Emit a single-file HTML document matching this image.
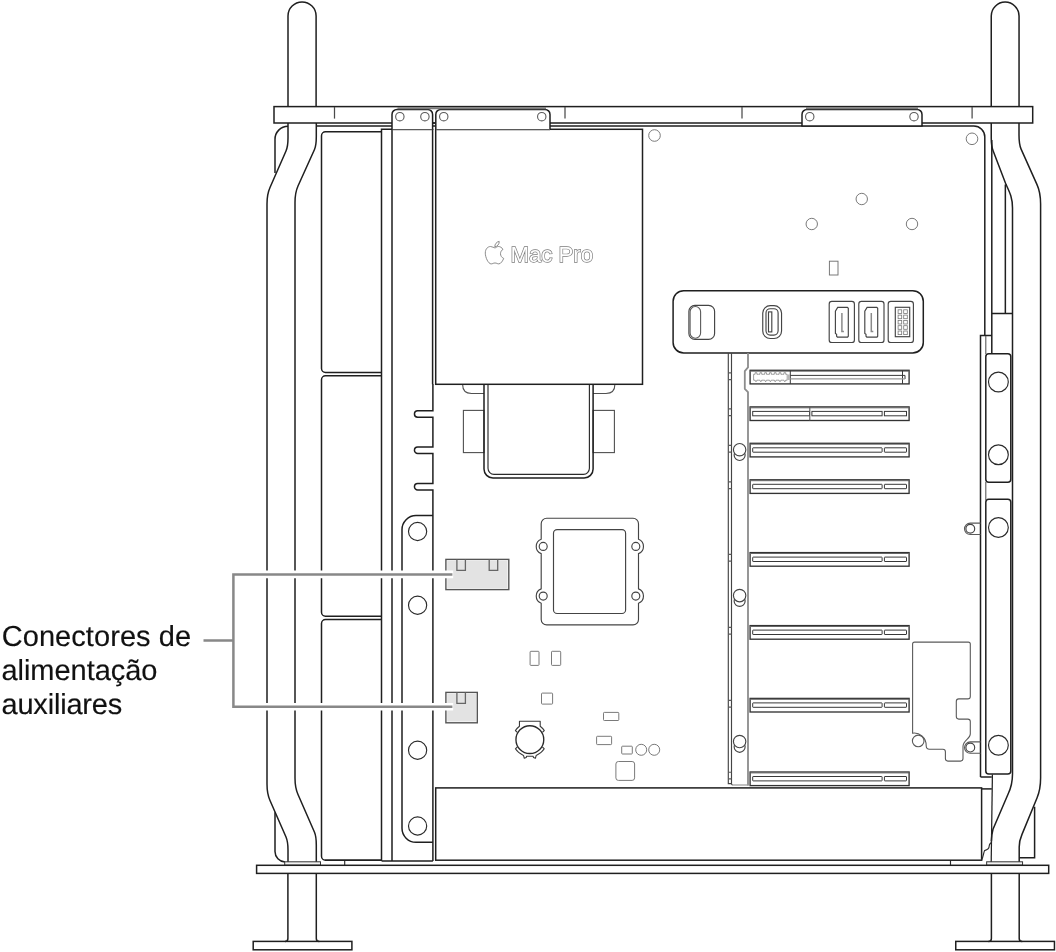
<!DOCTYPE html>
<html lang="pt">
<head>
<meta charset="utf-8">
<title>Conectores de alimentação auxiliares</title>
<style>
html,body{margin:0;padding:0;background:#fff;}
body{width:1056px;height:952px;overflow:hidden;position:relative;font-family:"Liberation Sans",sans-serif;}
svg{position:absolute;left:0;top:0;display:block;}
.k{fill:none;stroke:#1f1f1f;stroke-width:1.5;}
.th{fill:none;stroke:#858585;stroke-width:0.8;}
.si{fill:none;stroke:#383838;stroke-width:1;}
.pb{fill:none;stroke:#8c8c8c;stroke-width:1.8;}
.pb2{fill:none;stroke:#999;stroke-width:1.2;}
.bh{fill:none;stroke:#3a3a3a;stroke-width:1.1;stroke-linejoin:round;}
.bc{fill:none;stroke:#2a2a2a;stroke-width:1.35;}
.k3{fill:none;stroke:#222;stroke-width:1.25;}
.k2{fill:#f2f2f2;stroke:#333;stroke-width:1;}
.m{fill:none;stroke:#2a2a2a;stroke-width:1.15;}
.cp{fill:none;stroke:#444;stroke-width:1.15;}
.s{fill:none;stroke:#333;stroke-width:1.35;}
.st{fill:none;stroke:#666;stroke-width:1;}
.g{fill:none;stroke:#505050;stroke-width:1.1;}
.gl{fill:none;stroke:#5a5a5a;stroke-width:1.1;}
.sm{fill:none;stroke:#737373;stroke-width:0.95;}
.t{fill:none;stroke:#4a4a4a;stroke-width:1.25;}
.gb{fill:none;stroke:#7a7a7a;stroke-width:2;}
.hd{fill:none;stroke:#8a8a8a;stroke-width:1.5;}
.pin{fill:none;stroke:#777;stroke-width:0.8;}
.ho{fill:#fff;stroke:#555;stroke-width:1.4;}
.hf{fill:#e3e3e3;stroke:none;}
.hp{fill:none;stroke:#666;stroke-width:1.3;}
.cw{fill:none;stroke:#fff;stroke-width:7.6;stroke-linecap:butt;}
.cl{fill:none;stroke:#888;stroke-width:2.5;}
.apple path{fill:#fff;stroke:#777;stroke-width:0.85;}
.logo{font-family:"Liberation Sans",sans-serif;font-weight:normal;font-size:22.3px;letter-spacing:-0.05px;fill:#fff;stroke:#7c7c7c;stroke-width:1.4;paint-order:stroke fill;}
.label{font-family:"Liberation Sans",sans-serif;font-size:29px;fill:#111;stroke:#111;stroke-width:0.15px;text-rendering:geometricPrecision;}
svg{will-change:transform;-webkit-font-smoothing:antialiased;}
.w{fill:#fff;}
.f2{fill:#d9d9d9;}
</style>
</head>
<body>
<svg width="1056" height="952" viewBox="0 0 1056 952">
<g id="frame">
<path class="k" d="M288,107 V16 A14.05,14.05 0 0 1 316.1,16 V107"/>
<path class="k" d="M991.25,107 V16 A13.9,13.9 0 0 1 1019.05,16 V107"/>
<path class="k" d="M288,123 V138 C288,144 287.5,147.5 286,151 L270,187.5 C268,192 267,197 267,204 V784 C267,791 268,796 270,800.5 L286,837 C287.5,840.5 288,844 288,850 V862"/>
<path class="k" d="M316.3,123 V136.5 C316.3,142.5 316,146 314.5,149.5 L298,186 C296,190.5 295,195.5 295,202.5 V778 C295,785 296,790 298,794.5 L314.5,832.2 C316,835.7 316.3,839 316.3,845 V862"/>
<path class="k" d="M288,126.25 A13,13 0 0 0 275,139.5 V173"/>
<path class="k" d="M275,812.3 V851.5 A10.5,10.5 0 0 0 285,862"/>
<path class="k" d="M991.25,123 V138 C991.25,144 991.7,147.5 993.2,151 L1006,184.4 C1010,193 1012.5,198 1012.5,208 V774 C1012.5,783 1011,788 1008.1,794 L993,829.3 C992,833 991.4,836 991.4,841"/>
<path class="k" d="M1019,123 V135 C1019,142 1019.5,145.5 1021.1,149.1 L1036.9,184.4 C1039.5,190 1040.6,196 1040.6,204 V778 C1040.6,786 1039.5,792 1037,798 L1022,834.4 C1020,839 1019.2,842 1019.2,847 V862"/>
<path class="k" d="M991.8,140 V353.7 M1005.35,184.4 V313.6 M991.8,313.6 H1012.5"/>
<path class="k3" d="M992.4,774.5 L991.2,862"/>
<path class="k" d="M1034.6,806.7 V857.7 H1019.2"/>
<path class="k" d="M287.9,873 V938.4 Q287.9,941.4 285,941.4 M316.3,873 V938.4 Q316.3,941.4 319.3,941.4"/>
<path class="k" d="M991.4,873 V938.4 Q991.4,941.4 988.4,941.4 M1019.2,873 V938.4 Q1019.2,941.4 1022.2,941.4"/>
<rect class="k" x="253.2" y="941.4" width="98.7" height="8.4"/>
<rect class="k" x="955.75" y="941.4" width="98.7" height="8.4"/>
</g>
<g id="bars">
<rect class="k w" x="274" y="106.6" width="758.7" height="16.4"/>
<path class="t" d="M334.5,107 V118.6"/>
<path class="t" d="M565,107 V118.6"/>
<path class="t" d="M742,107 V118.6"/>
<path class="t" d="M972.1,107 V118.6"/>
<rect class="k2" x="284.7" y="861.8" width="35.8" height="3.4"/>
<rect class="k2" x="986.65" y="861.8" width="35.9" height="3.4"/>
<rect class="k w" x="256.6" y="865.3" width="792.1" height="8.1"/>
</g>
<g id="case">
<path class="k" d="M316.3,125.9 H392 M432.6,123 H435.8 M432.6,125.9 H435.8 M550,125.9 H973.8 A11,11 0 0 1 984.8,137 V335.4 M980.5,777 H991.8 M991.8,335.4 H980.5 V777"/>
<path class="k" d="M381.6,861 H432.9 M325,860.3 H381.6"/>
<path class="m" d="M344.7,860.3 V865 M950.5,860.3 V865"/>
<path class="k" d="M981.6,788.9 H991.8"/>
</g>
<g id="fan">
<path class="k" d="M381.5,131.75 H325.5 A4,4 0 0 0 321.5,135.75 V368.5 A4,4 0 0 0 325.5,372.5 H381.5"/>
<path class="k" d="M381.5,375.75 H325.5 A4,4 0 0 0 321.5,379.75 V612.25 A4,4 0 0 0 325.5,616.25 H381.5"/>
<path class="k" d="M381.5,619.5 H325.5 A4,4 0 0 0 321.5,623.5 V856.2 A4,4 0 0 0 325.5,860.2 H381.5"/>
<path class="k" d="M392,129.3 H381.5 V861"/>
</g>
<g id="strip">
<path class="k w" d="M392,130 V114.4 A5,5 0 0 1 397,109.4 H427.6 A5,5 0 0 1 432.6,114.4 V130"/>
<path class="k" d="M392,129 V861 M432.6,129 V384.3"/>
<path class="gl" d="M392.6,129.6 H432.3"/>
<path class="k" d="M432.9,384 V410.75 H417.7 A3.25,3.25 0 0 0 417.7,417.25 H432.9 V447.0 H417.7 A3.25,3.25 0 0 0 417.7,453.5 H432.9 V483.5 H417.7 A3.25,3.25 0 0 0 417.7,490.0 H432.9 V861"/>
<path class="k" d="M432.9,515.6 H416 A14,14 0 0 0 402,529.6 V828.3 A14,14 0 0 0 416,842.3 H432.9"/>
<circle class="m" cx="417.6" cy="531.5" r="9.1"/>
<circle class="m" cx="417.6" cy="605.25" r="9.1"/>
<circle class="m" cx="417.6" cy="750.25" r="9.1"/>
<circle class="m" cx="417.6" cy="826" r="9.1"/>
<circle class="gl" cx="399.85" cy="116.7" r="4.2"/>
<circle class="gl" cx="424.9" cy="116.7" r="4.2"/>
</g>
<g id="psu">
<rect class="g" x="463.4" y="410.4" width="20.6" height="42.2"/>
<rect class="g" x="593.1" y="410.4" width="21.3" height="42.2"/>
<path class="g" d="M462.6,384.3 Q462.6,393.5 471.5,393.5 H484 M614.9,384.3 Q614.9,393.5 606,393.5 H593.1"/>
<path class="k" d="M484,384.3 V469 A9,9 0 0 0 493,478 H584.1 A9,9 0 0 0 593.1,469 V384.3"/>
<path class="m" d="M488,384.3 V468.3 A6,6 0 0 0 494,474.3 H583.4 A6,6 0 0 0 589.4,468.3 V384.3"/>
<rect class="k" x="435.7" y="129.3" width="206.8" height="255"/>
<path class="k w" d="M435.8,129.3 V114.4 A5,5 0 0 1 440.8,109.4 H545 A5,5 0 0 1 550,114.4 V129.3"/>
<path class="gb" d="M397.5,108.3 H546"/>
<path class="gl" d="M436.4,129.6 H550"/>
<circle class="gl" cx="443.75" cy="116.7" r="4.2"/>
<circle class="gl" cx="541.75" cy="116.7" r="4.2"/>
<g class="apple" transform="translate(485.3,245.9)"><path d="M9.6,2.0 C8.3,2.0 7.2,0.6 5.3,0.6 C2.6,0.6 0,2.9 0,7.2 C0,11.5 3.0,18 5.9,18 C7.3,18 7.9,17.1 9.7,17.1 C11.5,17.1 12.0,18 13.5,18 C15.6,18 17.6,14.6 18.4,12.5 C16.4,11.7 15.2,9.8 15.2,7.8 C15.2,6.0 16.2,4.3 17.7,3.4 C16.6,1.7 14.8,0.6 13.1,0.6 C11.4,0.6 10.6,2.0 9.6,2.0 Z"/><path d="M9.5,0.9 C9.3,-1.6 11.4,-4.2 13.9,-4.5 C14.2,-2.0 12.0,0.8 9.5,0.9 Z"/></g>
<text class="logo" x="510.4" y="262.4">Mac Pro</text>
</g>
<g id="br3">
<path class="k w" d="M802,125.9 V114.4 A5,5 0 0 1 807,109.4 H917 A5,5 0 0 1 922,114.4 V125.9"/>
<path class="k" d="M801.3,125.9 H922.7"/>
<path class="gb" d="M806,108.3 H918"/>
<circle class="gl" cx="809.75" cy="116.7" r="4.2"/>
<circle class="gl" cx="914" cy="116.7" r="4.2"/>
</g>
<g id="board">
<circle class="sm" cx="654.5" cy="135.5" r="5.8"/>
<circle class="sm" cx="972" cy="138.8" r="5.8"/>
<circle class="sm" cx="861.75" cy="199" r="5.7"/>
<circle class="sm" cx="811.75" cy="224" r="5.7"/>
<circle class="sm" cx="912" cy="224" r="5.7"/>
<rect class="sm" x="829.4" y="261.2" width="8.6" height="13.8"/>
<rect class="sm" x="530.1" y="651.3" width="8.9" height="14.1" rx="0.8"/>
<rect class="sm" x="551.5" y="651.3" width="9.2" height="14.1" rx="0.8"/>
<rect class="sm" x="541.5" y="693.1" width="11.1" height="11" rx="0.8"/>
<rect class="sm" x="603.5" y="712.4" width="15.3" height="8.1" rx="0.8"/>
<rect class="sm" x="596.6" y="736.3" width="15" height="8.3" rx="0.8"/>
<rect class="sm" x="621.7" y="746.2" width="10.6" height="7.8" rx="0.8"/>
<rect class="sm" x="615.9" y="761.5" width="18.7" height="18.9" rx="2.5"/>
<circle class="sm" cx="641.2" cy="749.8" r="5.5"/><circle class="sm" cx="654.2" cy="749.8" r="5.5"/>
</g>
<g id="cpu">
<path class="cp" d="M546.7,518.2 H633.0 A5.5,5.5 0 0 1 638.5,523.7 V539.2 A7.7,7.7 0 0 1 638.5,553.6 V588.9 A7.7,7.7 0 0 1 638.5,603.3 V619.4 A5.5,5.5 0 0 1 633.0,624.9 H546.7 A5.5,5.5 0 0 1 541.2,619.4 V603.3 A7.7,7.7 0 0 1 541.2,588.9 V553.6 A7.7,7.7 0 0 1 541.2,539.2 V523.7 A5.5,5.5 0 0 1 546.7,518.2 Z"/>
<circle class="cp" cx="543.2" cy="546.4" r="4"/>
<circle class="cp" cx="635.8" cy="546.4" r="4"/>
<circle class="cp" cx="543.2" cy="596.1" r="4"/>
<circle class="cp" cx="635.8" cy="596.1" r="4"/>
<rect class="cp" x="553.5" y="529.6" width="72.1" height="83.9" rx="3.6"/>
</g>
<g id="bat">
<path class="bh" d="M517.3,732.3 L515.4,730.5 A17,17 0 0 1 519.45,726.2 V721.3 H540.2 V726.2 A17,17 0 0 1 544.3,730.5 L542.4,732.3"/>
<path class="bh" d="M517.3,747 L515.4,748.8 A17,17 0 0 0 523.5,755.4 L524.3,758.3 L526.2,757.6 L526.6,756.2 H533.1 L533.5,757.6 L535.4,758.3 L536.2,755.4 A17,17 0 0 0 544.3,748.8 L542.4,747"/>
<circle class="bc" cx="529.86" cy="739.63" r="13.9"/>
</g>
<g id="ports">
<rect class="k" x="673.1" y="290.7" width="250.2" height="62.3" rx="10.6"/>
<rect class="cp" x="688.9" y="305.3" width="25.7" height="34.1" rx="6"/>
<rect class="gl" x="690.1" y="306.5" width="10.5" height="31.7" rx="5.25"/>
<rect class="cp" x="762.75" y="305.6" width="18.8" height="32.9" rx="7.5"/>
<rect class="cp" x="766" y="308.75" width="12.1" height="26.3" rx="4.2"/>
<rect class="cp" x="768.5" y="311.9" width="3.3" height="20" fill="#ddd"/>
<rect class="cp" x="829.2" y="301.4" width="25.2" height="41.1" rx="2.6"/>
<rect class="cp" x="858.8" y="301.4" width="25.2" height="41.1" rx="2.6"/>
<rect class="cp" x="888.2" y="301.4" width="25.2" height="41.1" rx="2.6"/>
<path class="cp" transform="translate(0,0)" d="M837.7,307.4 H847.4 L848.3,308.3 V336.2 L847.6,337.1 H837.4 L836.6,336.2 V334.2 L835.4,333.4 V311.2 Z"/>
<path class="hd" transform="translate(0,0)" d="M841.9,313.1 V331.6 H843.9"/>
<path class="cp" transform="translate(29.4,0)" d="M837.7,307.4 H847.4 L848.3,308.3 V336.2 L847.6,337.1 H837.4 L836.6,336.2 V334.2 L835.4,333.4 V311.2 Z"/>
<path class="hd" transform="translate(29.4,0)" d="M841.9,313.1 V331.6 H843.9"/>
<rect class="cp" x="895.3" y="307.3" width="14.4" height="29.4"/>
<rect class="pin" x="898.1" y="309.8" width="3.6" height="3.6"/>
<rect class="pin" x="903.7" y="309.8" width="3.6" height="3.6"/>
<rect class="pin" x="898.1" y="315.1" width="3.6" height="3.6"/>
<rect class="pin" x="903.7" y="315.1" width="3.6" height="3.6"/>
<rect class="pin" x="898.1" y="320.4" width="3.6" height="3.6"/>
<rect class="pin" x="903.7" y="320.4" width="3.6" height="3.6"/>
<rect class="pin" x="898.1" y="325.7" width="3.6" height="3.6"/>
<rect class="pin" x="903.7" y="325.7" width="3.6" height="3.6"/>
<rect class="pin" x="898.1" y="331.0" width="3.6" height="3.6"/>
<rect class="pin" x="903.7" y="331.0" width="3.6" height="3.6"/>
</g>
<g id="pci">
<path class="cp" d="M728.3,353 V783.6 H731.5 M731.5,353 V784 L732.5,785.2"/>
<path class="gl" d="M728.3,372.9 H731.5 M728.3,379.6 H731.5"/>
<path class="gl" d="M728.3,408.9 H731.5 M728.3,415.6 H731.5"/>
<path class="gl" d="M728.3,445.4 H731.5 M728.3,452.1 H731.5"/>
<path class="gl" d="M728.3,481.9 H731.5 M728.3,488.6 H731.5"/>
<path class="gl" d="M728.3,554.4 H731.5 M728.3,561.1 H731.5"/>
<path class="gl" d="M728.3,627.4 H731.5 M728.3,634.1 H731.5"/>
<path class="gl" d="M728.3,700.4 H731.5 M728.3,707.1 H731.5"/>
<path class="gl" d="M728.3,772.1999999999999 H731.5 M728.3,778.9 H731.5"/>
<path class="pb" d="M748,353 V367.4 L744.8,371.2 V388.8 L748,392 V785.6"/>
<path class="pb2" d="M732.2,785 H748.6"/>
<rect class="s" x="750.1" y="370.3" width="159" height="13.6"/>
<path class="st" d="M749.9,371.2 H909.1"/>
<path class="th" d="M753.6,374.3 h1.5 v-1.6 h1.8 v1.6 h1.5 h1.5 v-1.6 h1.8 v1.6 h1.5 h1.5 v-1.6 h1.8 v1.6 h1.5 h1.5 v-1.6 h1.8 v1.6 h1.5 h1.5 v-1.6 h1.8 v1.6 h1.5 h1.5 v-1.6 h1.8 v1.6 h1.5 h1.5 v-1.6 h1.8 v1.6 h1.5 V380.2 h-1.5 l-0.9,1.6 l-0.9,-1.6 h-1.5 h-1.5 l-0.9,1.6 l-0.9,-1.6 h-1.5 h-1.5 l-0.9,1.6 l-0.9,-1.6 h-1.5 h-1.5 l-0.9,1.6 l-0.9,-1.6 h-1.5 h-1.5 l-0.9,1.6 l-0.9,-1.6 h-1.5 h-1.5 l-0.9,1.6 l-0.9,-1.6 h-1.5 h-1.5 l-0.9,1.6 l-0.9,-1.6 h-1.5 Z"/>
<path class="si" d="M790.3,370.3 V383.90000000000003 M902.5,370.3 V383.90000000000003 M790.3,375.4 H905 V379"/>
<path class="pb2" d="M790.3,378.9 H905 M788.9,374.6 V380"/>
<rect class="s" x="750.1" y="406.9" width="159" height="13.6"/>
<path class="st" d="M749.9,407.79999999999995 H909.1"/>
<rect class="si" x="752.7" y="411.4" width="56.8" height="4.4"/>
<rect class="si" x="811.9" y="411.4" width="70.2" height="4.4"/>
<rect class="si" x="884.4" y="411.4" width="22.1" height="4.4"/>
<path class="gl" d="M809.8,406.9 V420.5"/>
<rect class="s" x="750.1" y="443.3" width="159" height="13.6"/>
<path class="st" d="M749.9,444.2 H909.1"/>
<rect class="si" x="752.7" y="447.8" width="129.4" height="4.4" rx="0.4"/>
<rect class="si" x="884.4" y="447.8" width="22.1" height="4.4" rx="0.4"/>
<rect class="s" x="750.1" y="479.8" width="159" height="13.6"/>
<path class="st" d="M749.9,480.7 H909.1"/>
<rect class="si" x="752.7" y="484.3" width="129.4" height="4.4" rx="0.4"/>
<rect class="si" x="884.4" y="484.3" width="22.1" height="4.4" rx="0.4"/>
<rect class="s" x="750.1" y="552.6" width="159" height="13.6"/>
<path class="st" d="M749.9,553.5 H909.1"/>
<rect class="si" x="752.7" y="557.1" width="129.4" height="4.4" rx="0.4"/>
<rect class="si" x="884.4" y="557.1" width="22.1" height="4.4" rx="0.4"/>
<rect class="s" x="750.1" y="625.6" width="159" height="13.6"/>
<path class="st" d="M749.9,626.5 H909.1"/>
<rect class="si" x="752.7" y="630.1" width="129.4" height="4.4" rx="0.4"/>
<rect class="si" x="884.4" y="630.1" width="22.1" height="4.4" rx="0.4"/>
<rect class="s" x="750.1" y="698.4" width="159" height="13.6"/>
<path class="st" d="M749.9,699.3 H909.1"/>
<rect class="si" x="752.7" y="702.9" width="129.4" height="4.4" rx="0.4"/>
<rect class="si" x="884.4" y="702.9" width="22.1" height="4.4" rx="0.4"/>
<rect class="s" x="750.1" y="772" width="159" height="13.6"/>
<path class="st" d="M749.9,772.9 H909.1"/>
<rect class="si" x="752.7" y="776.5" width="129.4" height="4.4" rx="0.4"/>
<rect class="si" x="884.4" y="776.5" width="22.1" height="4.4" rx="0.4"/>
<circle class="cp" cx="739.63" cy="455.0" r="5.5"/>
<circle class="cp w" cx="739.63" cy="449.7" r="6.2"/>
<circle class="cp" cx="739.63" cy="600.9" r="5.5"/>
<circle class="cp w" cx="739.63" cy="595.6" r="6.2"/>
<circle class="cp" cx="739.63" cy="746.8" r="5.5"/>
<circle class="cp w" cx="739.63" cy="741.5" r="6.2"/>
</g>
<g id="shield">
<path class="gl" d="M914.6,642.1 H968.3 Q970.3,642.1 970.3,644.1 V696.4 Q970.3,698.9 967.8,698.9 H958.8 Q956.3,698.9 956.3,701.4 V716.6 Q956.3,719.1 958.8,719.1 H967.8 Q970.3,719.1 970.3,721.6 V734 C970.3,739 963,740 963,746.5 V758.6 Q963,761.1 960.5,761.1 H947.9 Q945.4,761.1 945.4,758.6 V751.8 Q945.4,749.3 942.9,749.3 H929.4 Q926.4,749.3 926.2,746 C926.5,737 919,732.2 912.6,733.2 V644.1 Q912.6,642.1 914.6,642.1 Z"/>
<circle class="gl" cx="918.2" cy="740.9" r="5.8"/>
<path class="gl" d="M980.5,523.0999999999999 H970.2 A5.7,5.7 0 0 0 970.2,534.5 H980.5"/>
<circle class="cp" cx="970.3" cy="528.8" r="4.4"/>
<path class="gl" d="M980.5,741.9 H970.2 A5.7,5.7 0 0 0 970.2,753.3000000000001 H980.5"/>
<circle class="cp" cx="970.3" cy="747.6" r="4.4"/>
</g>
<g id="latch">
<rect class="k" x="985.8" y="353.7" width="25" height="128.5" rx="3"/>
<rect class="k" x="985.8" y="499.2" width="25" height="274.9" rx="3"/>
<circle class="m" cx="998.4" cy="382" r="9.9"/>
<circle class="m" cx="998.4" cy="454.75" r="9.9"/>
<circle class="m" cx="998.4" cy="527.5" r="9.9"/>
<circle class="m" cx="998.4" cy="745.25" r="9.9"/>
<path class="gl" d="M985.8,336 V354 M985.8,482 V500"/>
</g>
<g id="bottom">
<rect class="k" x="435.7" y="787.9" width="545.9" height="72.3"/>
<path class="m" d="M981.6,860.2 C983.3,857 983.6,852.5 984.6,850.6 C987.5,850 989.2,848.5 989.3,845.6 C989.3,843.6 990.6,843.4 991.2,842.6 C991.5,841.5 991.4,840.5 991.5,839.5"/>
</g>
<g id="conn">
<rect class="ho" x="445.9" y="559.4" width="62.9" height="30.2"/>
<rect class="hf" x="447.2" y="560.7" width="60.3" height="27.6"/>
<path class="hp" d="M456.9,559.4 V570.3 H465.4 V559.4"/>
<path class="hp" d="M489.2,559.4 V570.3 H497.7 V559.4"/>
<rect class="ho" x="445.9" y="692.4" width="31.4" height="30.4"/>
<rect class="hf" x="447.2" y="693.7" width="28.8" height="27.8"/>
<path class="hp" d="M456.9,692.4 V703.3 H465.4 V692.4"/>
</g>
<g id="callout">
<path class="cw" d="M453.2,574.4 H233.4 V706.8 H453.2"/>
<path class="cl" d="M203.5,640.6 H233.4 M452.4,574.4 H233.4 V706.8 H452.4"/>
</g>
<text class="label"><tspan x="1.7" y="645.5" textLength="189.4" lengthAdjust="spacing">Conectores de</tspan><tspan x="1.5" y="679.8" textLength="155.9">alimentação</tspan><tspan x="1.5" y="714.3" textLength="120.7">auxiliares</tspan></text>
</svg>

</body>
</html>
